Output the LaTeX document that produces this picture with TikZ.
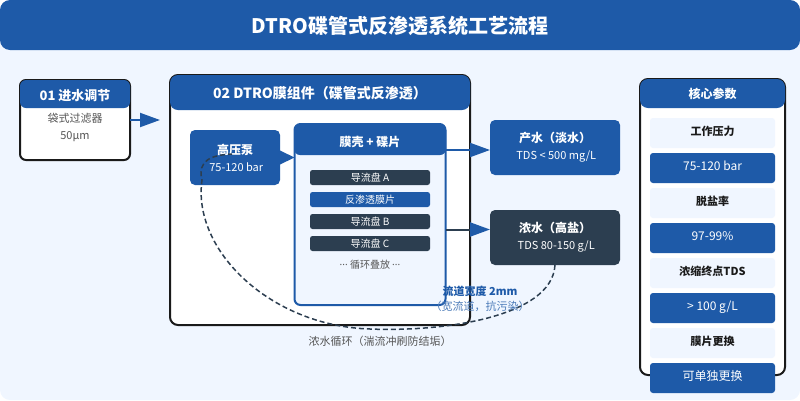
\documentclass[tikz,border=0pt]{standalone}
\usepackage{fontspec}
\setmainfont{Noto Sans CJK SC}
\newfontfamily\latinfont{Noto Sans}
\usetikzlibrary{arrows.meta, positioning, calc}
\definecolor{pageblue}{HTML}{F0F6FF}
\definecolor{mainblue}{HTML}{1E5AA8}
\definecolor{darkslate}{HTML}{2C3E50}
\definecolor{edgeblack}{HTML}{1A1A1A}
\definecolor{graytext}{HTML}{555555}
\newcommand{\px}[1]{\fontsize{#1}{#1}\selectfont}
\tikzset{
	card/.style={draw=edgeblack, line width=2pt, fill=white, rounded corners=#1, inner sep=0pt, outer sep=0pt},
	head/.style={fill=mainblue, text=white, rounded corners=#1, inner sep=0pt, outer sep=0pt, font=\px{13}\bfseries, text height=12pt, text depth=0pt},
	solidbox/.style={fill=mainblue, text=white, rounded corners=5pt, inner sep=0pt, outer sep=0pt, align=center},
	plate/.style={fill=darkslate, text=white, rounded corners=2.5pt, minimum width=120pt, minimum height=15pt, inner sep=0pt, outer sep=0pt, font=\px{10}},
	keycell/.style={fill=pageblue, text=edgeblack, rounded corners=3pt, minimum width=125pt, minimum height=30pt, inner sep=0pt, outer sep=0pt, font=\px{11}\bfseries, text height=10pt, text depth=5pt},
	valcell/.style={fill=mainblue, text=white, rounded corners=3pt, minimum width=125pt, minimum height=30pt, inner sep=0pt, outer sep=0pt, font=\px{12}, text height=10pt, text depth=4.5pt},
	flow/.style={line width=2pt, -{Triangle[length=20pt, width=14pt, color=mainblue]}},
}
\begin{document}
\begin{tikzpicture}[x=1pt, y=-1pt, node distance=5pt]
	\useasboundingbox (0,0) rectangle (800,400);
	\fill[pageblue, rounded corners=10pt] (0,0) rectangle (800,400);
	\fill[mainblue, rounded corners=10pt] (0,0) rectangle (800,50);
	\node[text=white, font=\px{20}\bfseries] (title) at (400,26) {DTRO碟管式反渗透系统工艺流程};

	% 01
	\node[card=6pt, minimum width=110pt, minimum height=80pt] (inlet) at (75,120) {};
	\node[head=6pt, minimum width=110pt, minimum height=28pt] (inlethead) at (75,94) {01 进水调节};
	\node[text=graytext, font=\px{11}, inner sep=0pt] (filter) at (75,118) {袋式过滤器};
	\node[text=graytext, font=\px{11}, inner sep=0pt] (micron) at (75,137) {50µm};

	% 02
	\node[card=8pt, minimum width=300pt, minimum height=250pt] (module) at (320,200) {};
	\node[head=8pt, minimum width=300pt, minimum height=35pt, font=\px{14}\bfseries, text height=11pt] (modulehead) at (320,92.5) {02 DTRO膜组件（碟管式反渗透）};
	\node[solidbox, minimum width=90pt, minimum height=55pt] (pump) at (235,157.5) {{\px{12}\bfseries 高压泵}\\[5pt]{\px{11} 75-120 bar}};
	\node[draw=mainblue, line width=2pt, fill=pageblue, rounded corners=6pt, minimum width=151pt, minimum height=181pt, inner sep=0pt, outer sep=0pt] (shell) at (370,214.5) {};
	\node[head=6pt, minimum width=152pt, minimum height=31pt, font=\px{12}\bfseries, text height=13pt] (shellhead) at (370,139.5) {膜壳 + 碟片};
	\node[plate] (diska) at (370,177.5) {导流盘 A};
	\node[plate, fill=mainblue, below=7pt of diska] (film) {反渗透膜片};
	\node[plate, below=7pt of film] (diskb) {导流盘 B};
	\node[plate, below=7pt of diskb] (diskc) {导流盘 C};
	\node[text=graytext, font=\px{10}, inner sep=0pt] (stack) at (370,264.5) {{\latinfont ···} 循环叠放 {\latinfont ···}};

	% outlets
	\node[solidbox, minimum width=130pt, minimum height=55pt] (product) at (555,147.5) {{\px{12}\bfseries 产水（淡水）}\\[5pt]{\px{11} TDS < 500 mg/L}};
	\node[solidbox, fill=darkslate, minimum width=130pt, minimum height=55pt] (brine) at (555,237.5) {{\px{12}\bfseries 浓水（高盐）}\\[5pt]{\px{11} TDS 80-150 g/L}};

	% parameters
	\node[card=8pt, minimum width=145pt, minimum height=296pt] (params) at (712.5,227) {};
	\node[head=8pt, minimum width=145pt, minimum height=29pt, font=\px{12}\bfseries, text height=9pt] (paramshead) at (712.5,93.5) {核心参数};
	\node[keycell] (pressure) at (712.5,133) {工作压力};
	\node[valcell, below=of pressure] (pressureval) {75-120 bar};
	\node[keycell, below=of pressureval] (salt) {脱盐率};
	\node[valcell, below=of salt] (saltval) {97-99\%};
	\node[keycell, below=of saltval] (endpoint) {浓缩终点TDS};
	\node[valcell, below=of endpoint] (endpointval) {> 100 g/L};
	\node[keycell, below=of endpointval] (swap) {膜片更换};
	\node[valcell, below=of swap] (swapval) {可单独更换};

	% connectors
	\coordinate (productin) at (490,150);
	\coordinate (brinein) at (490,229.5);
	\draw[flow, mainblue, shorten >=10pt] (inlet.east) -- (inlet.east -| module.west);
	\draw[flow, mainblue, -{Triangle[length=15pt, width=14pt, color=mainblue]}] (pump.east) -- (pump.east -| shell.west);
	\draw[flow, mainblue] (shell.east |- productin) -- (productin);
	\draw[flow, darkslate] (shell.east |- brinein) -- (brinein);

	% recycle loop
	\coordinate (loopbottom) at (370,329);
	\coordinate (loopleft) at (202,180);
	\coordinate (pumpend) at (232,154);
	\draw[darkslate, line width=1.5pt, dash pattern=on 5pt off 3pt]
		(brine.south) .. controls (552,318) and (440,332) .. (loopbottom)
		.. controls (270,326) and (192,250) .. (loopleft)
		.. controls (197,160) and (212,155) .. (pumpend);

	\node[text=mainblue, font=\px{11}\bfseries, inner sep=0pt] (widthlabel) at (480,291) {流道宽度 2mm};
	\node[text=mainblue!80!white, font=\px{11}, inner sep=0pt] (widthnote) at (480,306) {（宽流道，抗污染）};
	\node[text=graytext, font=\px{11}, inner sep=0pt] (looplabel) at (380,341) {浓水循环（湍流冲刷防结垢）};
\end{tikzpicture}
\end{document}
